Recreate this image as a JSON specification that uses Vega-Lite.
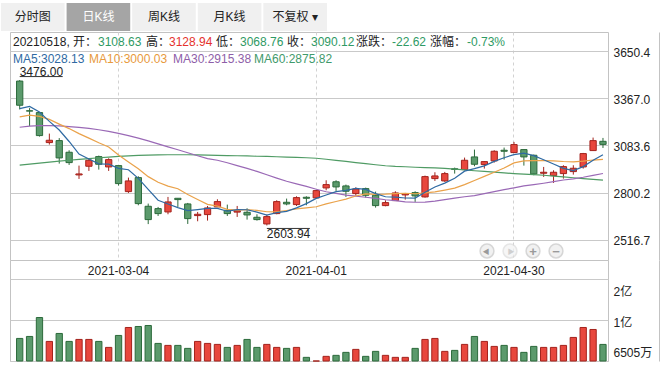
{
 "$schema": "https://vega.github.io/schema/vega-lite/v6.json",
 "padding": {"left": 0, "top": 3, "right": 0, "bottom": 0},
 "background": "#ffffff",
 "config": {
  "font": "Liberation Sans, Noto Sans CJK SC, sans-serif",
  "view": {"stroke": "#c3c3c3", "fill": "#ffffff"},
  "axis": {"labelFont": "Liberation Sans, Noto Sans CJK SC, sans-serif", "labelFontSize": 12, "labelColor": "#222222"},
  "text": {"font": "Liberation Sans, Noto Sans CJK SC, sans-serif", "fontSize": 12}
 },
 "datasets": {
  "k": [
   {"d":"2021-02-18","o":3470,"h":3476.00,"l":3300,"c":3325,"v":9199,"m5":3305,"m10":3255,"m30":3193,"m60":2966},
   {"d":"2021-02-19","o":3292,"h":3308,"l":3200,"c":3290,"v":9437,"m5":3318,"m10":3266,"m30":3200,"m60":2972},
   {"d":"2021-02-22","o":3281,"h":3283,"l":3137,"c":3143,"v":11695,"m5":3284,"m10":3258,"m30":3203,"m60":2978},
   {"d":"2021-02-23","o":3101,"h":3155,"l":3089,"c":3115,"v":8843,"m5":3228,"m10":3240,"m30":3203,"m60":2984},
   {"d":"2021-02-24","o":3113,"h":3128,"l":2975,"c":3009,"v":9793,"m5":3176.4,"m10":3212,"m30":3201,"m60":2990},
   {"d":"2021-02-25","o":3043,"h":3055,"l":2967,"c":2981,"v":8843,"m5":3107.6,"m10":3185,"m30":3197,"m60":2995},
   {"d":"2021-02-26","o":2907,"h":2963,"l":2883,"c":2913,"v":9080,"m5":3032.2,"m10":3155,"m30":3192,"m60":3000},
   {"d":"2021-03-01","o":2959,"h":3005,"l":2931,"c":2995,"v":9080,"m5":3002.6,"m10":3128,"m30":3186,"m60":3005},
   {"d":"2021-03-02","o":3017,"h":3023,"l":2939,"c":2971,"v":8843,"m5":2973.8,"m10":3100,"m30":3178,"m60":3010},
   {"d":"2021-03-03","o":2955,"h":3007,"l":2931,"c":2999,"v":8129,"m5":2971.8,"m10":3074.1,"m30":3168,"m60":3014},
   {"d":"2021-03-04","o":2963,"h":2963,"l":2843,"c":2855,"v":9556,"m5":2946.6,"m10":3027.1,"m30":3156,"m60":3018},
   {"d":"2021-03-05","o":2807,"h":2891,"l":2799,"c":2871,"v":10507,"m5":2938.2,"m10":2985.2,"m30":3143,"m60":3021},
   {"d":"2021-03-08","o":2891,"h":2899,"l":2725,"c":2735,"v":10625,"m5":2886.2,"m10":2944.4,"m30":3128,"m60":3024},
   {"d":"2021-03-09","o":2719,"h":2735,"l":2612,"c":2639,"v":10744,"m5":2819.8,"m10":2896.8,"m30":3111,"m60":3026},
   {"d":"2021-03-10","o":2705,"h":2715,"l":2661,"c":2675,"v":8605,"m5":2755,"m10":2863.4,"m30":3093,"m60":3027},
   {"d":"2021-03-11","o":2685,"h":2775,"l":2671,"c":2745,"v":8367,"m5":2733,"m10":2839.8,"m30":3075,"m60":3028},
   {"d":"2021-03-12","o":2767,"h":2767,"l":2715,"c":2759,"v":8367,"m5":2710.6,"m10":2824.4,"m30":3058,"m60":3028},
   {"d":"2021-03-15","o":2733,"h":2739,"l":2613,"c":2645,"v":8011,"m5":2692.6,"m10":2789.4,"m30":3040,"m60":3028},
   {"d":"2021-03-16","o":2663,"h":2685,"l":2629,"c":2671,"v":8843,"m5":2699,"m10":2759.4,"m30":3022,"m60":3027},
   {"d":"2021-03-17","o":2669,"h":2721,"l":2633,"c":2709,"v":8605,"m5":2705.8,"m10":2730.4,"m30":3005,"m60":3026},
   {"d":"2021-03-18","o":2715,"h":2761,"l":2715,"c":2747,"v":8486,"m5":2706.2,"m10":2719.6,"m30":2995,"m60":3024},
   {"d":"2021-03-19","o":2695,"h":2729,"l":2661,"c":2675,"v":8129,"m5":2689.4,"m10":2700,"m30":2980,"m60":3023},
   {"d":"2021-03-22","o":2684,"h":2721,"l":2655,"c":2692,"v":8367,"m5":2698.8,"m10":2695.7,"m30":2963,"m60":3022},
   {"d":"2021-03-23","o":2683,"h":2707,"l":2639,"c":2667,"v":9080,"m5":2698,"m10":2698.5,"m30":2946,"m60":3021},
   {"d":"2021-03-24","o":2653,"h":2671,"l":2633,"c":2639,"v":8129,"m5":2684,"m10":2694.9,"m30":2928,"m60":3019},
   {"d":"2021-03-25","o":2613,"h":2669,"l":2603.94,"c":2657,"v":8486,"m5":2666,"m10":2686.1,"m30":2908,"m60":3018},
   {"d":"2021-03-26","o":2675,"h":2755,"l":2671,"c":2747,"v":8129,"m5":2680.4,"m10":2684.9,"m30":2888,"m60":3016},
   {"d":"2021-03-29","o":2743,"h":2765,"l":2725,"c":2733,"v":8011,"m5":2688.6,"m10":2693.7,"m30":2869,"m60":3014},
   {"d":"2021-03-30","o":2729,"h":2779,"l":2721,"c":2771,"v":8129,"m5":2709.4,"m10":2703.7,"m30":2853,"m60":3012},
   {"d":"2021-03-31","o":2773,"h":2779,"l":2725,"c":2767,"v":6941,"m5":2735,"m10":2709.5,"m30":2838,"m60":3010},
   {"d":"2021-04-01","o":2769,"h":2815,"l":2765,"c":2813,"v":6505,"m5":2766.2,"m10":2716.1,"m30":2820.9,"m60":3007},
   {"d":"2021-04-02","o":2829,"h":2875,"l":2815,"c":2849,"v":7060,"m5":2786.6,"m10":2733.5,"m30":2806.2,"m60":3001},
   {"d":"2021-04-06","o":2866,"h":2875,"l":2811,"c":2835,"v":7179,"m5":2807,"m10":2747.8,"m30":2796,"m60":2994},
   {"d":"2021-04-07","o":2841,"h":2849,"l":2775,"c":2809,"v":7535,"m5":2814.6,"m10":2762,"m30":2785.8,"m60":2988},
   {"d":"2021-04-08","o":2795,"h":2833,"l":2783,"c":2823,"v":7892,"m5":2825.8,"m10":2780.4,"m30":2779.6,"m60":2981},
   {"d":"2021-04-09","o":2825,"h":2831,"l":2771,"c":2785,"v":7060,"m5":2820.2,"m10":2793.2,"m30":2773,"m60":2975},
   {"d":"2021-04-12","o":2785,"h":2807,"l":2711,"c":2723,"v":7654,"m5":2795,"m10":2790.8,"m30":2766.7,"m60":2968},
   {"d":"2021-04-13","o":2723,"h":2755,"l":2719,"c":2741,"v":7179,"m5":2776.2,"m10":2791.6,"m30":2758.2,"m60":2962},
   {"d":"2021-04-14","o":2753,"h":2809,"l":2751,"c":2799,"v":6941,"m5":2774.2,"m10":2794.4,"m30":2752.5,"m60":2958},
   {"d":"2021-04-15","o":2787,"h":2799,"l":2759,"c":2795,"v":6941,"m5":2768.6,"m10":2797.2,"m30":2745.7,"m60":2956},
   {"d":"2021-04-16","o":2801,"h":2809,"l":2745,"c":2781,"v":8011,"m5":2767.8,"m10":2794,"m30":2743.2,"m60":2953},
   {"d":"2021-04-19","o":2775,"h":2903,"l":2771,"c":2897,"v":9080,"m5":2802.6,"m10":2798.8,"m30":2744.1,"m60":2951},
   {"d":"2021-04-20","o":2885,"h":2923,"l":2871,"c":2901,"v":9199,"m5":2834.6,"m10":2805.4,"m30":2749.6,"m60":2949},
   {"d":"2021-04-21","o":2871,"h":2925,"l":2865,"c":2915,"v":7654,"m5":2857.8,"m10":2816,"m30":2758.8,"m60":2946},
   {"d":"2021-04-22","o":2944,"h":2951,"l":2915,"c":2940,"v":7773,"m5":2886.8,"m10":2827.7,"m30":2767.7,"m60":2942},
   {"d":"2021-04-23","o":2939,"h":3011,"l":2935,"c":2995,"v":8486,"m5":2929.6,"m10":2848.7,"m30":2776,"m60":2937},
   {"d":"2021-04-26","o":3015,"h":3059,"l":2959,"c":2971,"v":9437,"m5":2944.4,"m10":2873.5,"m30":2783.1,"m60":2932},
   {"d":"2021-04-27","o":2969,"h":2989,"l":2945,"c":2987,"v":8843,"m5":2961.6,"m10":2898.1,"m30":2794.5,"m60":2928},
   {"d":"2021-04-28","o":2991,"h":3055,"l":2981,"c":3049,"v":8248,"m5":2988.4,"m10":2923.1,"m30":2807.1,"m60":2924},
   {"d":"2021-04-29","o":3055,"h":3071,"l":2999,"c":3049,"v":8367,"m5":3010.2,"m10":2948.5,"m30":2818.4,"m60":2919},
   {"d":"2021-04-30","o":3041,"h":3105,"l":3039,"c":3089,"v":8129,"m5":3029,"m10":2979.3,"m30":2829.8,"m60":2915},
   {"d":"2021-05-06","o":3059,"h":3059,"l":2963,"c":3015,"v":7535,"m5":3037.8,"m10":2991.1,"m30":2841.1,"m60":2912},
   {"d":"2021-05-07","o":3025,"h":3029,"l":2905,"c":2913,"v":8248,"m5":3023,"m10":2992.3,"m30":2848.5,"m60":2909},
   {"d":"2021-05-10","o":2917,"h":2955,"l":2895,"c":2923,"v":8129,"m5":2997.8,"m10":2993.1,"m30":2857,"m60":2905},
   {"d":"2021-05-11","o":2903,"h":2935,"l":2859,"c":2923,"v":8129,"m5":2972.6,"m10":2991.4,"m30":2866.5,"m60":2900},
   {"d":"2021-05-12","o":2915,"h":2965,"l":2885,"c":2957,"v":8367,"m5":2946.2,"m10":2987.6,"m30":2876.5,"m60":2895},
   {"d":"2021-05-13","o":2927,"h":2965,"l":2909,"c":2947,"v":9318,"m5":2932.6,"m10":2985.2,"m30":2883.2,"m60":2890},
   {"d":"2021-05-14","o":2955,"h":3039,"l":2945,"c":3035,"v":10507,"m5":2957,"m10":2990,"m30":2893.2,"m60":2885},
   {"d":"2021-05-17","o":3053,"h":3131,"l":3051,"c":3112.74,"v":10269,"m5":2995,"m10":2996.4,"m30":2904.6,"m60":2880},
   {"d":"2021-05-18","o":3108.63,"h":3128.94,"l":3068.76,"c":3090.12,"v":8485.86,"m5":3028.13,"m10":3000.03,"m30":2915.38,"m60":2875.82}
  ]
 },
 "bounds": "flush",
 "spacing": 1,
 "vconcat": [
  {
   "width": 317,
   "height": 28,
   "view": {"stroke": null, "fill": null},
   "data": {"values": [
    {"tab": "分时图", "sel": 0},
    {"tab": "日K线", "sel": 1},
    {"tab": "周K线", "sel": 0},
    {"tab": "月K线", "sel": 0},
    {"tab": "不复权 ▾", "sel": 0}
   ]},
   "encoding": {"x": {"field": "tab", "type": "nominal", "sort": null, "axis": null,
     "scale": {"type": "band", "range": [-9, 317], "paddingInner": 0.03, "paddingOuter": 0}}},
   "layer": [
    {"mark": {"type": "rect"},
     "encoding": {"color": {"condition": {"test": "datum.sel == 1", "value": "#a5a5a5"}, "value": "#f0f0f0"}}},
    {"mark": {"type": "text", "fontSize": 12, "baseline": "middle"},
     "encoding": {"text": {"field": "tab"},
      "color": {"condition": {"test": "datum.sel == 1", "value": "#ffffff"}, "value": "#222222"}}}
   ]
  },
  {
   "bounds": "flush",
   "spacing": 0,
   "vconcat": [
    {
     "width": 598,
     "height": 228,
     "layer": [
      {
       "data": {"name": "k"},
       "encoding": {"x": {"field": "d", "type": "ordinal",
         "scale": {"type": "band", "paddingInner": 0.363, "paddingOuter": 0.426, "align": 0.777},
         "axis": {"orient": "bottom", "values": ["2021-03-04", "2021-04-01", "2021-04-30"], "labels": false, "ticks": false, "domain": false, "grid": true, "gridDash": [3, 3], "gridColor": "#d2d2d2", "title": null, "bandPosition": 0.5}}},
       "layer": [
        {"mark": {"type": "rule", "strokeWidth": 1},
         "encoding": {
          "y": {"field": "l", "type": "quantitative",
           "scale": {"domain": [2396.7, 3764.4], "nice": false, "zero": false},
           "axis": {"orient": "right", "values": [2516.7, 2800.2, 3083.6, 3367.0, 3650.4], "format": ".1f", "grid": true, "gridColor": "#c9c9c9", "ticks": false, "tickSize": 0, "domain": true, "domainColor": "#c3c3c3", "offset": 51, "labelPadding": -46, "labelOffset": 1, "title": null}},
          "y2": {"field": "h"},
          "color": {"condition": {"test": "datum.c >= datum.o", "value": "#a3231d"}, "value": "#2c6a3b"}}},
        {"mark": {"type": "bar", "strokeWidth": 1},
         "encoding": {
          "y": {"field": "o", "type": "quantitative"},
          "y2": {"field": "c"},
          "fill": {"condition": {"test": "datum.c >= datum.o", "value": "#e8473d"}, "value": "#5b9a6c"},
          "stroke": {"condition": {"test": "datum.c >= datum.o", "value": "#a3231d"}, "value": "#2c6a3b"}}},
        {"mark": {"type": "line", "strokeWidth": 1.2, "color": "#4f9b64"},
         "encoding": {"y": {"field": "m60", "type": "quantitative"}}},
        {"mark": {"type": "line", "strokeWidth": 1.2, "color": "#9a69b6"},
         "encoding": {"y": {"field": "m30", "type": "quantitative"}}},
        {"mark": {"type": "line", "strokeWidth": 1.2, "color": "#eaa24a"},
         "encoding": {"y": {"field": "m10", "type": "quantitative"}}},
        {"mark": {"type": "line", "strokeWidth": 1.2, "color": "#2f6aa3"},
         "encoding": {"y": {"field": "m5", "type": "quantitative"}}},
        {
         "transform": [{"joinaggregate": [{"op": "max", "field": "h", "as": "hx"}]}, {"filter": "datum.h == datum.hx"}],
         "layer": [
          {"mark": {"type": "text", "align": "left", "baseline": "alphabetic", "dy": -4.5, "color": "#222222"},
           "encoding": {"y": {"field": "h", "type": "quantitative"}, "text": {"field": "h", "type": "quantitative", "format": ".2f"}}},
          {"mark": {"type": "rule", "x2Offset": 43, "yOffset": -3.5, "color": "#333333", "strokeWidth": 1},
           "encoding": {"y": {"field": "h", "type": "quantitative"}, "x2": {"field": "d"}}}
         ]
        },
        {
         "transform": [{"joinaggregate": [{"op": "min", "field": "l", "as": "lx"}]}, {"filter": "datum.l == datum.lx"}],
         "layer": [
          {"mark": {"type": "text", "align": "left", "baseline": "top", "dy": 4, "color": "#222222"},
           "encoding": {"y": {"field": "l", "type": "quantitative"}, "text": {"field": "l", "type": "quantitative", "format": ".2f"}}},
          {"mark": {"type": "rule", "x2Offset": 43, "yOffset": 3, "color": "#333333", "strokeWidth": 1},
           "encoding": {"y": {"field": "l", "type": "quantitative"}, "x2": {"field": "d"}}}
         ]
        }
       ]
      },
      {"data": {"values": [{}]}, "mark": {"type": "text", "x": 3, "y": 10, "align": "left", "baseline": "middle", "text": "20210518, 开：", "color": "#222222"}},
      {"data": {"values": [{}]}, "mark": {"type": "text", "x": 88, "y": 10, "align": "left", "baseline": "middle", "text": "3108.63", "color": "#2f9a64"}},
      {"data": {"values": [{}]}, "mark": {"type": "text", "x": 136, "y": 10, "align": "left", "baseline": "middle", "text": "高：", "color": "#222222"}},
      {"data": {"values": [{}]}, "mark": {"type": "text", "x": 159, "y": 10, "align": "left", "baseline": "middle", "text": "3128.94", "color": "#e5322d"}},
      {"data": {"values": [{}]}, "mark": {"type": "text", "x": 206, "y": 10, "align": "left", "baseline": "middle", "text": "低：", "color": "#222222"}},
      {"data": {"values": [{}]}, "mark": {"type": "text", "x": 230, "y": 10, "align": "left", "baseline": "middle", "text": "3068.76", "color": "#2f9a64"}},
      {"data": {"values": [{}]}, "mark": {"type": "text", "x": 277, "y": 10, "align": "left", "baseline": "middle", "text": "收：", "color": "#222222"}},
      {"data": {"values": [{}]}, "mark": {"type": "text", "x": 301, "y": 10, "align": "left", "baseline": "middle", "text": "3090.12", "color": "#2f9a64"}},
      {"data": {"values": [{}]}, "mark": {"type": "text", "x": 346, "y": 10, "align": "left", "baseline": "middle", "text": "涨跌：", "color": "#222222"}},
      {"data": {"values": [{}]}, "mark": {"type": "text", "x": 382, "y": 10, "align": "left", "baseline": "middle", "text": "-22.62", "color": "#2f9a64"}},
      {"data": {"values": [{}]}, "mark": {"type": "text", "x": 420, "y": 10, "align": "left", "baseline": "middle", "text": "涨幅：", "color": "#222222"}},
      {"data": {"values": [{}]}, "mark": {"type": "text", "x": 457, "y": 10, "align": "left", "baseline": "middle", "text": "-0.73%", "color": "#2f9a64"}},
      {"data": {"values": [{}]}, "mark": {"type": "text", "x": 3, "y": 26.5, "align": "left", "baseline": "middle", "text": "MA5:3028.13", "color": "#2f6aa3"}},
      {"data": {"values": [{}]}, "mark": {"type": "text", "x": 79, "y": 26.5, "align": "left", "baseline": "middle", "text": "MA10:3000.03", "color": "#e89a3c"}},
      {"data": {"values": [{}]}, "mark": {"type": "text", "x": 163, "y": 26.5, "align": "left", "baseline": "middle", "text": "MA30:2915.38", "color": "#8e5ea8"}},
      {"data": {"values": [{}]}, "mark": {"type": "text", "x": 244, "y": 26.5, "align": "left", "baseline": "middle", "text": "MA60:2875.82", "color": "#3f9a6b"}},
      {"data": {"values": [{}]}, "mark": {"type": "point", "shape": "circle", "filled": true, "x": 477, "y": 219, "size": 190, "fill": "#ececec", "stroke": "#c6c6c6", "strokeWidth": 1.5}},
      {"data": {"values": [{}]}, "mark": {"type": "point", "shape": "circle", "filled": true, "x": 500, "y": 219, "size": 190, "fill": "#f3f3f3", "stroke": "#dcdcdc", "strokeWidth": 1.5}},
      {"data": {"values": [{}]}, "mark": {"type": "point", "shape": "circle", "filled": true, "x": 523, "y": 219, "size": 190, "fill": "#ececec", "stroke": "#c6c6c6", "strokeWidth": 1.5}},
      {"data": {"values": [{}]}, "mark": {"type": "point", "shape": "circle", "filled": true, "x": 546, "y": 219, "size": 190, "fill": "#ececec", "stroke": "#c6c6c6", "strokeWidth": 1.5}},
      {"data": {"values": [{}]}, "mark": {"type": "text", "x": 476, "y": 219.5, "align": "center", "baseline": "middle", "text": "◀", "fontSize": 7, "color": "#9a9a9a"}},
      {"data": {"values": [{}]}, "mark": {"type": "text", "x": 501, "y": 219.5, "align": "center", "baseline": "middle", "text": "▶", "fontSize": 7, "color": "#cfcfcf"}},
      {"data": {"values": [{}]}, "mark": {"type": "text", "x": 523, "y": 219.5, "align": "center", "baseline": "middle", "text": "+", "fontSize": 13, "fontWeight": "bold", "color": "#9a9a9a"}},
      {"data": {"values": [{}]}, "mark": {"type": "text", "x": 546, "y": 219.5, "align": "center", "baseline": "middle", "text": "−", "fontSize": 13, "fontWeight": "bold", "color": "#9a9a9a"}}
     ]
    },
    {
     "width": 598,
     "height": 101,
     "data": {"name": "k"},
     "mark": {"type": "bar", "strokeWidth": 1},
     "encoding": {
      "x": {"field": "d", "type": "ordinal",
       "scale": {"type": "band", "paddingInner": 0.363, "paddingOuter": 0.426, "align": 0.777},
       "axis": {"orient": "top", "values": ["2021-03-04", "2021-04-01", "2021-04-30"], "labelAngle": 0, "ticks": false, "tickSize": 0, "domain": false, "grid": false, "labelPadding": -17, "title": null, "bandPosition": 0.5}},
      "y": {"field": "v", "type": "quantitative",
       "scale": {"domain": [6505, 18562], "nice": false, "zero": false},
       "axis": {"orient": "right", "values": [6505, 11378, 16251], "labelExpr": "datum.value >= 10000 ? format(datum.value / 10000, '.0f') + '亿' : format(datum.value, 'd') + '万'", "grid": true, "gridColor": "#c9c9c9", "ticks": false, "tickSize": 0, "domain": true, "domainColor": "#c3c3c3", "offset": 51, "labelPadding": -46, "labelFlush": false, "labelOffset": {"condition": [{"test": "datum.value > 15000", "value": 12}, {"test": "datum.value < 7000", "value": -9}], "value": 2}, "title": null}},
      "y2": {"datum": 6505},
      "fill": {"condition": {"test": "datum.c >= datum.o", "value": "#e8473d"}, "value": "#5b9a6c"},
      "stroke": {"condition": {"test": "datum.c >= datum.o", "value": "#a3231d"}, "value": "#2c6a3b"}
     }
    }
   ]
  }
 ]
}
